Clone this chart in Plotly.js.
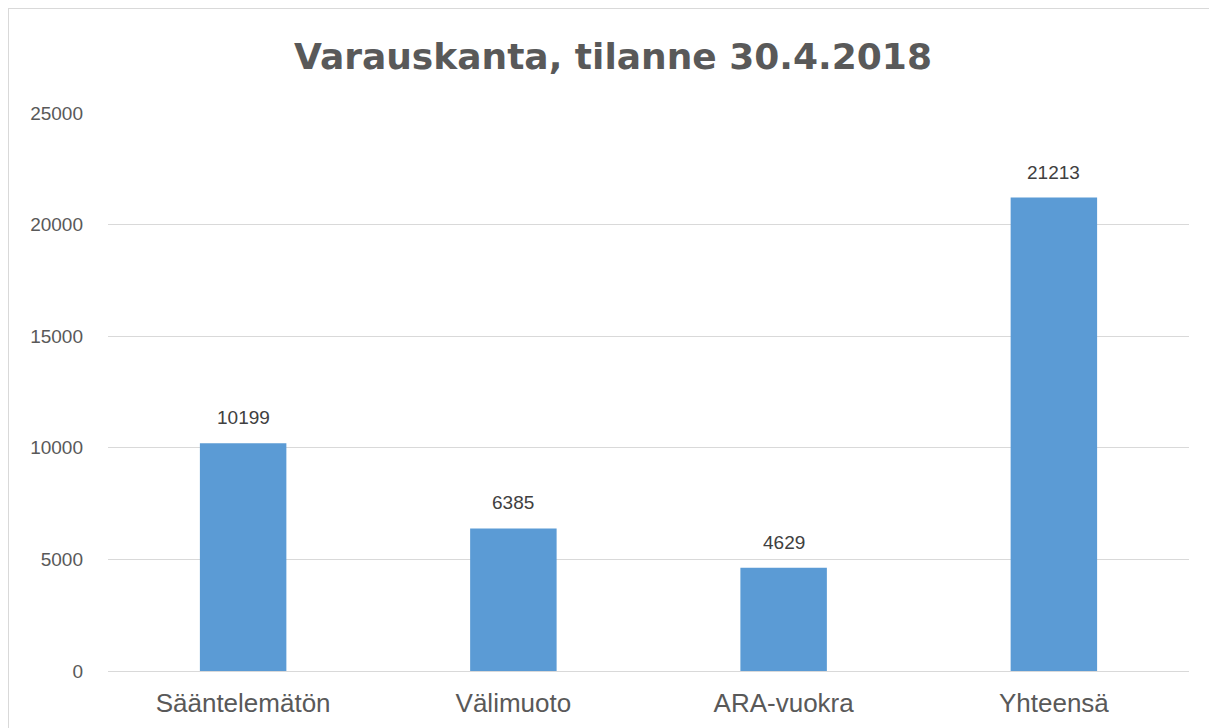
<!DOCTYPE html>
<html>
<head>
<meta charset="utf-8">
<script src="https://cdn.plot.ly/plotly-3.0.1.min.js"></script>
<style>
html,body{margin:0;padding:0;background:#fff;overflow:hidden;}
#chart{width:1209px;height:728px;}
#frame{position:absolute;left:8px;top:8px;width:1400px;height:1000px;border:1px solid #d9d9d9;pointer-events:none;}
</style>
</head>
<body>
<div id="chart"></div>
<div id="frame"></div>
<script>
const categories = ["Sääntelemätön", "Välimuoto", "ARA-vuokra", "Yhteensä"];
const values = [10199, 6385, 4629, 21213];
const tickValues = [0, 5000, 10000, 15000, 20000, 25000];

const trace = {
  type: 'bar',
  x: categories,
  y: values,
  marker: {color: '#5b9bd5'},
  hoverinfo: 'x+y'
};

const annotations = categories.map((c, i) => ({
  x: c, y: values[i], xref: 'x', yref: 'y',
  text: String(values[i]),
  showarrow: false,
  yanchor: 'bottom', xanchor: 'center',
  yshift: 13,
  font: {family: 'Liberation Sans, Arial, sans-serif', size: 19, color: '#404040'}
}));

const layout = {
  width: 1209, height: 728,
  paper_bgcolor: '#ffffff', plot_bgcolor: '#ffffff',
  margin: {l: 108, r: 20, t: 113, b: 57},
  title: {
    text: 'Varauskanta, tilanne 30.4.2018',
    font: {family: 'DejaVu Sans, Liberation Sans, sans-serif', size: 36, color: '#595959', weight: 'bold'},
    x: 0.507, xref: 'container', xanchor: 'center', y: 0.922, yanchor: 'middle'
  },
  bargap: 0.68,
  showlegend: false,
  annotations: annotations,
  xaxis: {
    type: 'category',
    tickfont: {family: 'Liberation Sans, Arial, sans-serif', size: 26, color: '#595959'},
    showgrid: false, zeroline: false, showline: false,
    ticks: '', ticklen: 0, ticklabelstandoff: 14
  },
  yaxis: {
    range: [0, 25000],
    tickvals: tickValues,
    ticktext: tickValues.map(String),
    tickfont: {family: 'Liberation Sans, Arial, sans-serif', size: 19, color: '#595959'},
    showgrid: true, gridcolor: '#d9d9d9', gridwidth: 1,
    zeroline: true, zerolinecolor: '#d9d9d9', zerolinewidth: 1,
    showline: false, ticks: '', ticklabelstandoff: 24
  }
};

Plotly.newPlot('chart', [trace], layout, {displayModeBar: false, staticPlot: true});
</script>
</body>
</html>
